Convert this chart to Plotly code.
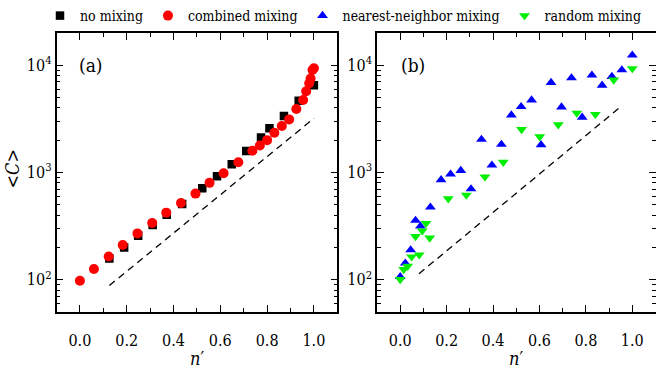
import numpy as np
import plotly.graph_objects as go

# ---------------- data ----------------
# panel (a)
no_mix_x = [0.126, 0.189, 0.249, 0.311, 0.371, 0.437, 0.523, 0.586, 0.649, 0.711, 0.774, 0.810, 0.872, 0.935, 1.0]
no_mix_y = [158, 200, 258, 324, 405, 510, 713, 924, 1195, 1590, 2123, 2580, 3365, 4660, 6500]

comb_x = [0.0, 0.06, 0.123, 0.183, 0.246, 0.309, 0.369, 0.432, 0.494, 0.554, 0.614, 0.677, 0.737,
          0.769, 0.800, 0.831, 0.863, 0.894, 0.925, 0.954, 0.967, 0.980, 0.986, 0.994, 1.0]
comb_y = [98, 126, 165, 211, 271, 339, 423, 520, 636, 801, 986, 1248, 1595,
          1787, 2004, 2350, 2710, 3128, 3906, 4740, 5714, 6790, 7510, 9040, 9375]

dash_a_x = [0.126, 1.0]
dash_a_y = [88.5, 3200]

# panel (b)
nn_x = [0.0, 0.022, 0.045, 0.066, 0.087, 0.13, 0.176, 0.217, 0.261, 0.305, 0.35, 0.395, 0.436,
        0.479, 0.521, 0.566, 0.607, 0.65, 0.695, 0.738, 0.784, 0.826, 0.87, 0.912, 0.955, 1.0]
nn_y = [107, 143, 190, 358, 316, 475, 855, 965, 1044, 704, 2034, 1171, 1826,
        3433, 4110, 4740, 1815, 6890, 4075, 7610, 3266, 8070, 6500, 7840, 9040, 12400]

rnd_x = [0.0, 0.015, 0.032, 0.049, 0.066, 0.082, 0.095, 0.111, 0.127, 0.207, 0.285, 0.365,
         0.444, 0.523, 0.601, 0.681, 0.761, 0.841, 0.92, 1.0]
rnd_y = [101, 125, 134, 164, 254, 171, 286, 336, 246, 571, 616, 912,
         1248, 2523, 2155, 2790, 3584, 3484, 7290, 9310]

dash_b_x = [0.081, 0.95]
dash_b_y = [114, 4110]

x_ticks = [0.0, 0.2, 0.4, 0.6, 0.8, 1.0]
x_ticktext = ["0.0", "0.2", "0.4", "0.6", "0.8", "1.0"]
x_minor = [0.1, 0.3, 0.5, 0.7, 0.9]
y_ticks = [100, 1000, 10000]
y_ticktext = ["10<sup>2</sup>", "10<sup>3</sup>", "10<sup>4</sup>"]
y_minor = [50, 60, 70, 80, 90, 200, 300, 400, 500, 600, 700, 800, 900,
           2000, 3000, 4000, 5000, 6000, 7000, 8000, 9000, 20000]

# ---------------- figure ----------------
W, H = 656, 369
FONT = "DejaVu Serif Condensed, DejaVu Serif"

fig = go.Figure()

fig.add_trace(go.Scatter(x=no_mix_x, y=no_mix_y, mode="markers", name="no mixing",
                         marker=dict(symbol="square", size=8.5, color="black"),
                         xaxis="x", yaxis="y"))
fig.add_trace(go.Scatter(x=comb_x, y=comb_y, mode="markers", name="combined mixing",
                         marker=dict(symbol="circle", size=10, color="#ff0000"),
                         xaxis="x", yaxis="y"))
fig.add_trace(go.Scatter(x=dash_a_x, y=dash_a_y, mode="lines", showlegend=False,
                         line=dict(color="black", width=1.3, dash="7px,5px"),
                         xaxis="x", yaxis="y"))

fig.add_trace(go.Scatter(x=nn_x, y=nn_y, mode="markers", name="nearest-neighbor mixing",
                         marker=dict(symbol="triangle-up", size=9.5, color="#0000ff"),
                         xaxis="x2", yaxis="y2"))
fig.add_trace(go.Scatter(x=rnd_x, y=rnd_y, mode="markers", name="random mixing",
                         marker=dict(symbol="triangle-down", size=9.5, color="#00ee00"),
                         xaxis="x2", yaxis="y2"))
fig.add_trace(go.Scatter(x=dash_b_x, y=dash_b_y, mode="lines", showlegend=False,
                         line=dict(color="black", width=1.3, dash="7px,5px"),
                         xaxis="x2", yaxis="y2"))

def xax(domain):
    return dict(domain=domain, range=[-0.1, 1.1], tickmode="array", tickvals=x_ticks,
                ticktext=x_ticktext, ticks="inside", ticklen=7, tickwidth=1.2, tickcolor="black",
                minor=dict(tickmode="array", tickvals=x_minor, ticks="inside", ticklen=4,
                           tickwidth=1.2, tickcolor="black"),
                showline=True, linecolor="black", linewidth=1.5, mirror="allticks",
                showgrid=False, zeroline=False, automargin=False,
                tickfont=dict(family=FONT, size=16, color="black"),
                ticklabelstandoff=13)

def yax(domain, anchor):
    return dict(domain=domain, type="log", range=[np.log10(50), np.log10(20000)],
                tickmode="array", tickvals=y_ticks, ticktext=y_ticktext,
                ticks="inside", ticklen=7, tickwidth=1.2, tickcolor="black",
                minor=dict(tickmode="array", tickvals=y_minor, ticks="inside", ticklen=4,
                           tickwidth=1.2, tickcolor="black"),
                showline=True, linecolor="black", linewidth=1.5, mirror="allticks",
                showgrid=False, zeroline=False, automargin=False, anchor=anchor,
                tickfont=dict(family=FONT, size=16, color="black"))

ydom = [(H - 312) / H, (H - 32) / H]
fig.update_layout(
    width=W, height=H,
    margin=dict(l=0, r=0, t=0, b=0),
    paper_bgcolor="white", plot_bgcolor="white",
    font=dict(family=FONT, color="black"),
    xaxis=xax([56.5 / W, 337.3 / W]) | dict(anchor="y"),
    yaxis=yax(ydom, "x"),
    xaxis2=xax([377 / W, 655.5 / W]) | dict(anchor="y2"),
    yaxis2=yax(ydom, "x2"),
    showlegend=True,
    legend=dict(orientation="h", x=40 / W, xanchor="left", y=(H - 15) / H, yanchor="middle",
                font=dict(family=FONT, size=14, color="black"),
                bgcolor="rgba(0,0,0,0)", borderwidth=0, itemsizing="trace"),
    annotations=[
        dict(text="(a)", x=-0.012, y=4.0, xref="x", yref="y", xanchor="left", yanchor="middle",
             showarrow=False, font=dict(family=FONT, size=19, color="black")),
        dict(text="(b)", x=-0.006, y=4.0, xref="x2", yref="y2", xanchor="left", yanchor="middle",
             showarrow=False, font=dict(family=FONT, size=19, color="black")),
        dict(text="<i>n</i>′", x=(56.5 + 337.3) / 2 / W, y=(H - 358) / H, xref="paper", yref="paper",
             xanchor="center", yanchor="middle", showarrow=False,
             font=dict(family=FONT, size=18, color="black")),
        dict(text="<i>n</i>′", x=(377 + 655.5) / 2 / W, y=(H - 358) / H, xref="paper", yref="paper",
             xanchor="center", yanchor="middle", showarrow=False,
             font=dict(family=FONT, size=18, color="black")),
        dict(text="&lt;<i>C</i>&gt;", x=13 / W, y=(H - 168) / H, xref="paper", yref="paper",
             xanchor="center", yanchor="middle", textangle=-90, showarrow=False,
             font=dict(family=FONT, size=18, color="black")),
    ],
)

fig.write_html("out.html", config={"displayModeBar": False},
               post_script="document.body.style.margin='0';document.body.style.overflow='hidden';")
